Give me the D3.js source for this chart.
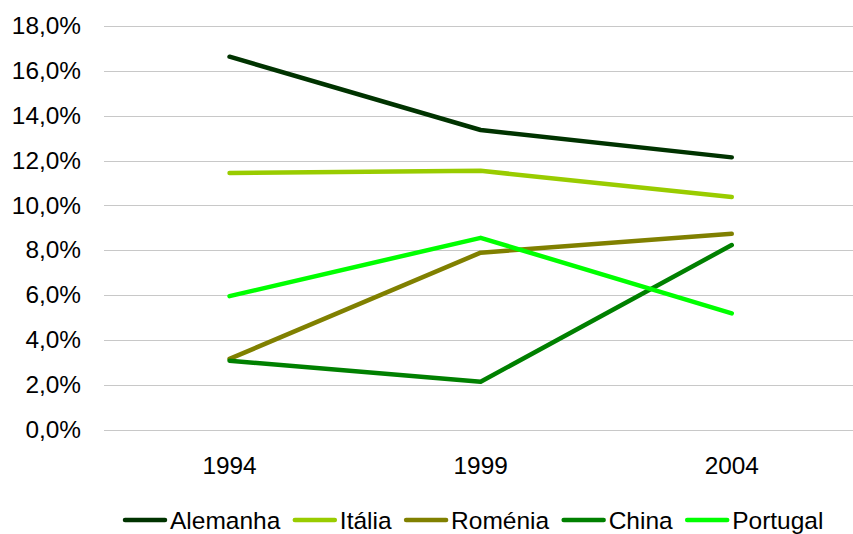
<!DOCTYPE html>
<html><head><meta charset="utf-8">
<script src="https://cdn.jsdelivr.net/npm/d3@7"></script>
<style>html,body{margin:0;padding:0;background:#fff;}svg{display:block;font-family:"Liberation Sans",Arial,sans-serif;}</style>
</head><body>
<svg id="c" width="853" height="534"></svg>
<script>
const years = ["1994", "1999", "2004"];
const seriesNames = ["Alemanha", "Itália", "Roménia", "China", "Portugal"];
const seriesColors = ["#003300", "#99cc00", "#808000", "#008000", "#00ff00"];
const alemanha = [16.63, 13.36, 12.14];
const italia = [11.44, 11.54, 10.37];
const romenia = [3.15, 7.89, 8.73];
const china = [3.07, 2.13, 8.23];
const portugal = [5.95, 8.55, 5.18];
const yTicks = [0, 2, 4, 6, 8, 10, 12, 14, 16, 18];

const seriesValues = [alemanha, italia, romenia, china, portugal];
const svg = d3.select("#c");
const pLeft = 104, pRight = 857.3, pTop = 26, pBottom = 429.5;
const fs = 24.4;

const x = d3.scaleBand().domain(years).range([pLeft, pRight]);
const y = d3.scaleLinear().domain([0, 18]).range([pBottom, pTop]);
const fmt = v => d3.format(".1f")(v).replace(".", ",") + "%";

// gridlines
svg.append("g").selectAll("line").data(yTicks).join("line")
  .attr("x1", pLeft).attr("x2", 853)
  .attr("y1", d => Math.round(y(d)) + 0.5).attr("y2", d => Math.round(y(d)) + 0.5)
  .attr("stroke", "#c8c8c8").attr("stroke-width", 1);

// y axis
const yAxis = svg.append("g").attr("transform", `translate(${pLeft},0)`)
  .call(d3.axisLeft(y).tickValues(yTicks).tickFormat(fmt).tickSize(0).tickPadding(23));
yAxis.select(".domain").remove();
yAxis.selectAll("text").attr("font-size", fs).attr("fill", "#000")
  .attr("font-family", "Liberation Sans, Arial, sans-serif");

// x axis
const xAxis = svg.append("g").attr("transform", `translate(0,${pBottom})`)
  .call(d3.axisBottom(x).tickSize(0).tickPadding(27));
xAxis.select(".domain").remove();
xAxis.selectAll("text").attr("font-size", fs).attr("fill", "#000")
  .attr("font-family", "Liberation Sans, Arial, sans-serif");

// lines
const line = d3.line().x((d, i) => x(years[i]) + x.bandwidth() / 2).y(d => y(d));
seriesValues.forEach((vals, k) => {
  svg.append("path").datum(vals).attr("d", line)
    .attr("fill", "none").attr("stroke", seriesColors[k])
    .attr("stroke-width", 4.5).attr("stroke-linejoin", "round").attr("stroke-linecap", "round");
});

// legend
const lg = svg.append("g");
let lx = 125;
const ly = 520;
seriesNames.forEach((name, k) => {
  lg.append("line").attr("x1", lx).attr("x2", lx + 40).attr("y1", ly).attr("y2", ly)
    .attr("stroke", seriesColors[k]).attr("stroke-width", 4.5).attr("stroke-linecap", "round");
  const t = lg.append("text").attr("x", lx + 45).attr("y", ly + 8.5)
    .attr("font-size", 24.5).attr("fill", "#000").text(name);
  const w = t.node().getComputedTextLength();
  lx = lx + 45 + w + 14.5;
});
</script>
</body></html>
